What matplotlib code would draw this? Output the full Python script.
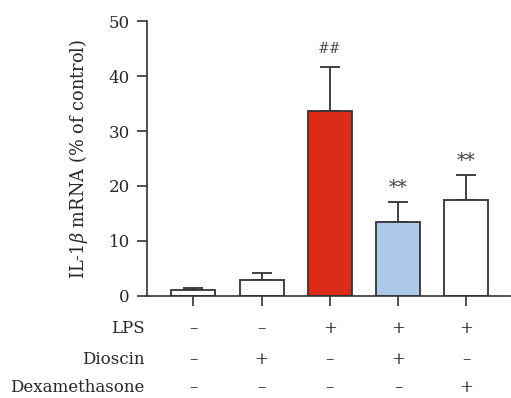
import matplotlib
matplotlib.use("Agg")
import matplotlib.pyplot as plt
import numpy as np

means = [1.0, 2.9, 33.6, 13.5, 17.5]
errors = [0.45, 1.2, 8.1, 3.6, 4.5]
colors = ["#FFFFFF", "#FFFFFF", "#DC2B19", "#ADC9E9", "#FFFFFF"]
annotations = ["", "", "##", "**", "**"]
row_labels = ["LPS", "Dioscin", "Dexamethasone"]
row_signs = [["–", "–", "+", "+", "+"],
             ["–", "+", "–", "+", "–"],
             ["–", "–", "–", "–", "+"]]
yticks = [0, 10, 20, 30, 40, 50]

plt.rcParams['font.family'] = ['DejaVu Serif']
plt.rcParams['mathtext.fontset'] = 'dejavuserif'
fig = plt.figure(figsize=(5.11, 3.98), dpi=100)
ax = fig.add_axes([0.287, 0.257, 0.711, 0.6895])

x = np.arange(len(means))
edge = "#333333"
txt = "#262626"
fs = 12
ax.bar(x, means, width=0.645, color=colors, edgecolor=edge, linewidth=1.3, zorder=2)
ax.errorbar(x, means, yerr=[np.zeros(len(errors)), errors], fmt='none',
            ecolor=edge, elinewidth=1.3, capsize=7.5, capthick=1.3, zorder=1)

for xi, m, e, a in zip(x, means, errors, annotations):
    if a == "##":
        ax.text(xi, m + e + 1.9, a, ha='center', va='bottom', fontsize=10, color="#444444")
    elif a:
        ax.text(xi, m + e + 0.9, a, ha='center', va='bottom', fontsize=13.5, color="#444444")

ax.set_xlim(-0.682, 4.637)
ax.set_ylim(0, 50)
ax.set_yticks(yticks)
ax.set_xticks(x)
ax.set_xticklabels([])
ax.tick_params(axis='y', direction='out', length=7.2, width=1.2, colors=edge, labelsize=fs, labelcolor=txt, pad=5)
ax.tick_params(axis='x', direction='out', length=7.5, width=1.2, colors=edge)
for s in ['top', 'right']:
    ax.spines[s].set_visible(False)
for s in ['left', 'bottom']:
    ax.spines[s].set_color(edge)
    ax.spines[s].set_linewidth(1.2)

ytr = [-0.118, -0.231, -0.336]
trans = ax.get_xaxis_transform()
for lab, signs, yy in zip(row_labels, row_signs, ytr):
    ax.text(-0.005, yy, lab, transform=ax.transAxes, ha='right', va='center', fontsize=fs, color=txt)
    for xi, s in zip(x, signs):
        ax.text(xi, yy, s, transform=trans, ha='center', va='center', fontsize=fs, color=txt)

fig.text(78 / 511, 1 - 158.5 / 398, r"IL-1$\it{\beta}$ mRNA (% of control)", rotation=90, ha='center', va='center',
         fontsize=12.8, color=txt)

fig.savefig("out.png", dpi=100)
